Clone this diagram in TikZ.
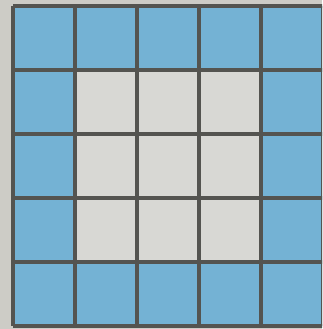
\documentclass[tikz,border=0pt]{standalone}
\usepackage{xcolor}
\usepackage{tikz}
\definecolor{ringblue}{RGB}{116,178,212}
\definecolor{innergray}{RGB}{216,216,212}
\definecolor{paper}{RGB}{205,204,198}
\definecolor{gridline}{RGB}{84,84,80}

\begin{document}
\begin{tikzpicture}[x=1pt, y=-1pt, cell/.style={fill=ringblue}, innercell/.style={fill=innergray}, gridstroke/.style={draw=gridline, line width=4pt}]
    \useasboundingbox[fill=paper] (0,0) rectangle (322,329);
    \clip (0,0) rectangle (322,329);
    % cells of the 5x5 board
    \foreach \i in {0,...,4} {
        \foreach \j in {0,...,4} {
            \fill[cell] (13+62*\i,6+64*\j) rectangle (75+62*\i,70+64*\j);
        }
    }
    \foreach \i in {1,2,3} {
        \foreach \j in {1,2,3} {
            \fill[innercell] (13+62*\i,6+64*\j) rectangle (75+62*\i,70+64*\j);
        }
    }
    % grid lines
    \foreach \k in {0,...,5} {
        \draw[gridstroke] (13+62*\k,6) -- (13+62*\k,326);
        \draw[gridstroke] (13,6+64*\k) -- (323,6+64*\k);
    }
\end{tikzpicture}
\end{document}
